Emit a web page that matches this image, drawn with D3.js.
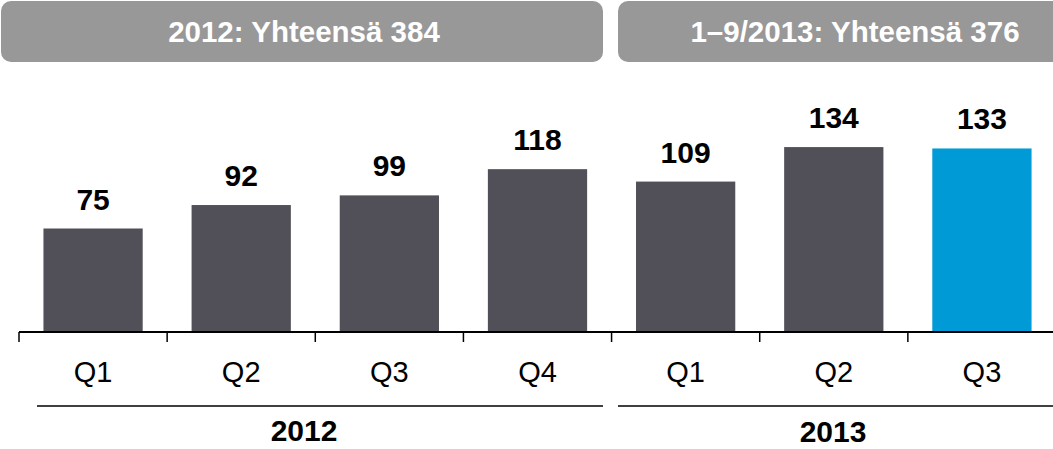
<!DOCTYPE html>
<html>
<head>
<meta charset="utf-8">
<script src="https://cdn.jsdelivr.net/npm/d3@7/dist/d3.min.js"></script>
<style>
  html, body { margin: 0; padding: 0; background: #fff; }
  svg { display: block; font-family: "Liberation Sans", Arial, sans-serif; }
</style>
</head>
<body>
<script>
// Quarterly values, 2012 and 2013
const categories = ["2012-Q1", "2012-Q2", "2012-Q3", "2012-Q4", "2013-Q1", "2013-Q2", "2013-Q3"];
const tickLabels = ["Q1", "Q2", "Q3", "Q4", "Q1", "Q2", "Q3"];
const values = [75, 92, 99, 118, 109, 134, 133];
const highlighted = ["2013-Q3"];
const years = ["2012", "2013"];
const yearTotals = ["2012: Yhteensä 384", "1–9/2013: Yhteensä 376"];

const W = 1053, H = 449;
const svg = d3.select("body").append("svg").attr("width", W).attr("height", H);

const x = d3.scaleBand().domain(categories).range([19, 1056]).paddingInner(0.33).paddingOuter(0.165);
const y = d3.scaleLinear().domain([0, 150]).range([332, 125]);

// Header boxes with year totals
const headers = [
  { x0: 1, x1: 603, tx: 304 },
  { x0: 618, x1: 1093, tx: 855 }
];
const hdr = svg.append("g");
headers.forEach((h, i) => {
  hdr.append("rect")
    .attr("x", h.x0).attr("y", 1)
    .attr("width", h.x1 - h.x0).attr("height", 61)
    .attr("rx", 10).attr("ry", 10)
    .attr("fill", "#989898");
  hdr.append("text")
    .attr("x", h.tx).attr("y", 42)
    .attr("text-anchor", "middle")
    .attr("fill", "#fff")
    .attr("font-weight", "bold")
    .attr("font-size", 29.5)
    .text(yearTotals[i]);
});

// Bars
svg.append("g").selectAll("rect")
  .data(categories)
  .join("rect")
  .attr("x", d => x(d))
  .attr("width", x.bandwidth())
  .attr("y", (d, i) => y(values[i]))
  .attr("height", (d, i) => y(0) - y(values[i]))
  .attr("fill", d => highlighted.includes(d) ? "#009bd6" : "#515058");

// Value labels
svg.append("g").selectAll("text")
  .data(categories)
  .join("text")
  .attr("x", d => x(d) + x.bandwidth() / 2)
  .attr("y", (d, i) => y(values[i]) - 19)
  .attr("text-anchor", "middle")
  .attr("font-weight", "bold")
  .attr("font-size", 30)
  .attr("fill", "#000")
  .text((d, i) => values[i]);

// Category axis: baseline with ticks between quarters
const gap = x.step() - x.bandwidth();
const axis = svg.append("g");
axis.append("line")
  .attr("x1", 19).attr("x2", W)
  .attr("y1", y(0)).attr("y2", y(0))
  .attr("stroke", "#000").attr("stroke-width", 2);
axis.selectAll("line.tick")
  .data(categories)
  .join("line")
  .attr("class", "tick")
  .attr("x1", d => x(d) - gap / 2)
  .attr("x2", d => x(d) - gap / 2)
  .attr("y1", y(0)).attr("y2", y(0) + 10)
  .attr("stroke", "#000").attr("stroke-width", 1.5);
axis.selectAll("text")
  .data(categories)
  .join("text")
  .attr("x", d => x(d) + x.bandwidth() / 2)
  .attr("y", 382)
  .attr("text-anchor", "middle")
  .attr("font-size", 29)
  .attr("fill", "#000")
  .text((d, i) => tickLabels[i]);

// Year group lines and labels
const groups = [
  { x0: 37, x1: 603, tx: 304, ty: 441 },
  { x0: 618, x1: W, tx: 833, ty: 442 }
];
groups.forEach((g, i) => {
  svg.append("line")
    .attr("x1", g.x0).attr("x2", g.x1)
    .attr("y1", 406).attr("y2", 406)
    .attr("stroke", "#000").attr("stroke-width", 1.5);
  svg.append("text")
    .attr("x", g.tx).attr("y", g.ty)
    .attr("text-anchor", "middle")
    .attr("font-weight", "bold")
    .attr("font-size", 30)
    .attr("fill", "#000")
    .text(years[i]);
});
</script>
</body>
</html>
